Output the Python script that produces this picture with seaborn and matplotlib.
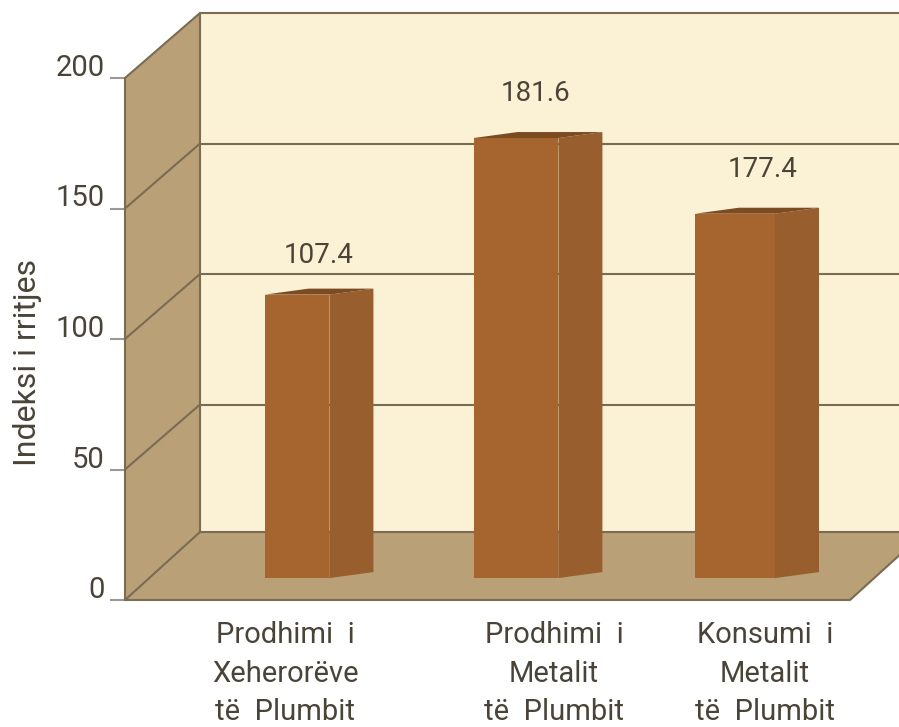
import numpy as np
import pandas as pd
import seaborn as sns
import matplotlib.pyplot as plt
from matplotlib.patches import Polygon
from matplotlib.transforms import ScaledTranslation

categories = ["Prodhimi  i\nXeherorëve\ntë  Plumbit", "Prodhimi  i\nMetalit\ntë  Plumbit", "Konsumi  i\nMetalit\ntë  Plumbit"]
bar_tops = [117, 177, 148]
value_labels = ["107.4", "181.6", "177.4"]
y_ticks = [0, 50, 100, 150, 200]
y_label = "Indeksi i rritjes"

W, H = 899, 727
PX_Y = 2.61      # pixel per unit on y
PX_X = 219.0     # pixel per category
BASE = 8.4       # the bars stand a bit in front of the floor edge
DEPTH_X, DEPTH_Y = 75 / PX_X, 65 / PX_Y        # depth of the room
FLOOR_Y = 68 / PX_Y
BAR_DX, BAR_DY = 44 / PX_X, 6 / PX_Y           # depth of a bar
width_scale = [0.81, 1.06, 1.0]
label_shift = [-12, 38, 30]  # px, tick label against bar centre
value_nudge = [(0, -4), (-2, 0), (4, 0)]  # points

WALL = "#B9A077"
BACK = "#FBF1D4"
LINE = "#7A6C52"
FRONT = "#A6642F"
SIDE = "#985E2D"
TOP = "#7B4B22"
TEXT = "#4A4438"

sns.set_style("white")
plt.rcParams["font.family"] = ["Roboto", "DejaVu Sans"]

df = pd.DataFrame({"cat": categories, "top": bar_tops})
df["height"] = df["top"] - BASE

fig = plt.figure(figsize=(W / 100, H / 100), dpi=100)
fig.patch.set_facecolor("white")
ax = fig.add_axes([125 / W, (H - 600) / H, (W - 125) / W, 586 / H])
ax.patch.set_visible(False)

sns.barplot(data=df, x="cat", y="height", bottom=BASE, color=FRONT, saturation=1, width=80 / PX_X,
            linewidth=0, ax=ax, zorder=5)

x_left = (125 - 297) / PX_X
x_right = (W - 297) / PX_X
ax.set_xlim(x_left, x_right)
ax.set_ylim(0, 586 / PX_Y)

# room: left wall, back wall, floor
back_x = x_left + DEPTH_X
floor_right = (850 - 297) / PX_X
ax.add_patch(Polygon([(back_x, FLOOR_Y), (x_right, FLOOR_Y), (x_right, 200 + DEPTH_Y), (back_x, 200 + DEPTH_Y)],
                     fc=BACK, ec="none", zorder=1))
ax.add_patch(Polygon([(x_left, 0), (back_x, FLOOR_Y), (back_x, 200 + DEPTH_Y), (x_left, 200)], fc=WALL, ec="none", zorder=1))
ax.add_patch(Polygon([(x_left, 0), (floor_right, 0), (floor_right + DEPTH_X, FLOOR_Y), (back_x, FLOOR_Y)],
                     fc=WALL, ec="none", zorder=1))

for t in y_ticks:
    dy = FLOOR_Y if t == 0 else DEPTH_Y
    ax.plot([x_left, back_x], [t, t + dy], color=LINE, lw=1.5, zorder=2, clip_on=False)
    ax.plot([back_x, x_right], [t + dy, t + dy], color=LINE, lw=1.5, zorder=2, clip_on=False)
ax.plot([x_left, x_left], [0, 200], color=LINE, lw=1.5, zorder=2, clip_on=False)
ax.plot([back_x, back_x], [FLOOR_Y, 200 + DEPTH_Y], color=LINE, lw=1.5, zorder=2)
ax.plot([x_left, floor_right, floor_right + DEPTH_X], [0, 0, FLOOR_Y], color=LINE, lw=1.5, zorder=2, clip_on=False)

# sides, tops and labels of the bars
for bar, scale, text, nudge in zip(ax.patches[:3], width_scale, value_labels, value_nudge):
    x0, w = bar.get_x(), bar.get_width()
    bar.set_x(x0 + w * (1 - scale) / 2)
    bar.set_width(w * scale)
    l, r = bar.get_x(), bar.get_x() + bar.get_width()
    b, t = bar.get_y(), bar.get_y() + bar.get_height()
    ax.add_patch(Polygon([(r, b), (r + BAR_DX, b + BAR_DY), (r + BAR_DX, t + BAR_DY), (r, t)], fc=SIDE, ec="none", zorder=5))
    ax.add_patch(Polygon([(l, t), (r, t), (r + BAR_DX, t + BAR_DY), (l + BAR_DX, t + BAR_DY)], fc=TOP, ec="none", zorder=5))
    ax.annotate(text, ((l + r + BAR_DX) / 2, t), xytext=(nudge[0], 32 + nudge[1]), textcoords="offset points",
                ha="center", va="center", fontsize=20, color=TEXT)

sns.despine(ax=ax, left=True, bottom=True, right=True, top=True)

ax.set_yticks(y_ticks)
ax.set_yticklabels(y_ticks, va="bottom")
ax.tick_params(axis="y", length=11, width=1.5, color="#9A9A94", pad=3.5, labelsize=21, labelcolor=TEXT, left=True)
shift_down = ScaledTranslation(0, -4 / 100, fig.dpi_scale_trans)
for lab in ax.get_yticklabels():
    lab.set_transform(lab.get_transform() + shift_down)

ax.set_xticks(np.arange(3) + np.array(label_shift) / PX_X)
ax.set_xticklabels(categories, linespacing=1.49)
ax.tick_params(axis="x", length=0, pad=15, labelsize=21, labelcolor=TEXT)

ax.set_xlabel("")
ax.set_ylabel(y_label, fontsize=23, color=TEXT)
ax.yaxis.set_label_coords((42 - 125) / (W - 125), 0.406)

fig.savefig("out.png", dpi=100)
